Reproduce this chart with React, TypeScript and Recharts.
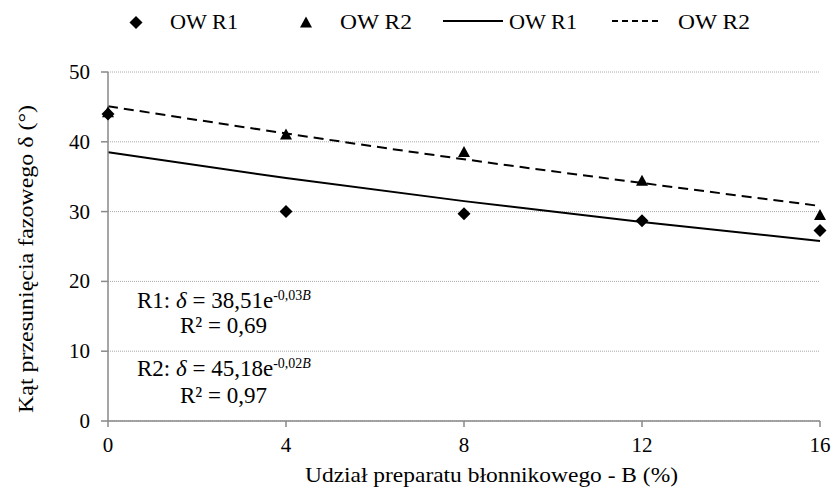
import { ComposedChart, Scatter, Line, XAxis, YAxis, CartesianGrid } from 'recharts'

// udział preparatu błonnikowego B (%)
const B = [0, 4, 8, 12, 16]
// pomiary
const R1 = [44.0, 30.0, 29.7, 28.7, 27.3]
const R2 = [44.3, 41.1, 38.6, 34.5, 29.6]
// linie trendu
const FIT1 = [38.5, 34.8, 31.5, 28.5, 25.8]
const FIT2 = [45.1, 41.2, 37.5, 34.1, 30.8]

const X_TICKS = [0, 4, 8, 12, 16]
const Y_TICKS = [0, 10, 20, 30, 40, 50]

const FONT = 'Liberation Serif'
const AXIS = '#898989'
const TXT = { fontFamily: FONT }

const data = B.map((b, i) => ({ b, r1: R1[i], r2: R2[i], fit1: FIT1[i], fit2: FIT2[i] }))

const Diamond = ({ cx, cy }: any) => (
  <path d={`M${cx},${cy - 6.5}L${cx + 6.5},${cy}L${cx},${cy + 6.5}L${cx - 6.5},${cy}Z`} fill="#000" />
)

const Triangle = ({ cx, cy }: any) => (
  <path d={`M${cx},${cy - 5.5}L${cx + 6},${cy + 5.5}L${cx - 6},${cy + 5.5}Z`} fill="#000" />
)

const XTick = ({ x, y, payload }: any) => (
  <text x={x} y={y + 21} textAnchor="middle" fontSize={21} fill="#000" style={TXT}>{payload.value}</text>
)

const YTick = ({ x, y, payload }: any) => (
  <text x={x} y={y + 7} textAnchor="end" fontSize={21} fill="#000" style={TXT}>{payload.value}</text>
)

const XTitle = () => (
  <text x={305} y={482} fontSize={22} fill="#000" style={TXT} textLength={373} lengthAdjust="spacingAndGlyphs">
    Udział preparatu błonnikowego - B (%)
  </text>
)

const YTitle = () => (
  <text x={33} y={413} transform="rotate(-90 33 413)" fontSize={22} fill="#000" style={TXT} textLength={308} lengthAdjust="spacingAndGlyphs">
    Kąt przesunięcia fazowego δ (°)
  </text>
)

export default function App() {
  return (
    <div style={{ position: 'absolute', left: 0, top: 0, width: 834, height: 490, background: '#fff' }}>
      <style>{`svg text, svg tspan { font-family: 'Liberation Serif', 'Times New Roman', serif !important; }`}</style>
      <ComposedChart width={834} height={490} data={data} margin={{ top: 72, right: 14, bottom: 0, left: 0 }}>
        <CartesianGrid vertical={false} stroke="#a8a8a8" strokeDasharray="1 1" />
        <XAxis
          dataKey="b"
          type="number"
          domain={[0, 16]}
          ticks={X_TICKS}
          height={69}
          stroke={AXIS}
          strokeWidth={1.5}
          tickSize={6}
          tickMargin={4}
          tick={<XTick />}
          label={<XTitle />}
        />
        <YAxis
          type="number"
          domain={[0, 50]}
          ticks={Y_TICKS}
          width={108}
          stroke={AXIS}
          strokeWidth={1.5}
          tickSize={7}
          tickMargin={11}
          tick={<YTick />}
          label={<YTitle />}
        />
        <Line dataKey="fit1" type="monotone" stroke="#000" strokeWidth={2} dot={false} isAnimationActive={false} />
        <Line dataKey="fit2" type="monotone" stroke="#000" strokeWidth={2} strokeDasharray="10 6" dot={false} isAnimationActive={false} />
        <Scatter dataKey="r1" shape={<Diamond />} isAnimationActive={false} />
        <Scatter dataKey="r2" shape={<Triangle />} isAnimationActive={false} />
      </ComposedChart>

      <svg width={834} height={490} style={{ position: 'absolute', left: 0, top: 0, pointerEvents: 'none' }}>
        {/* legenda */}
        <g fontSize={21} fill="#000">
          <Diamond cx={136} cy={22.5} />
          <text x={170} y={29} style={TXT} textLength={68} lengthAdjust="spacingAndGlyphs">OW R1</text>
          <Triangle cx={306} cy={22} />
          <text x={340} y={29} style={TXT} textLength={72} lengthAdjust="spacingAndGlyphs">OW R2</text>
          <line x1={443} y1={21} x2={503} y2={21} stroke="#000" strokeWidth={2} />
          <text x={509} y={29} style={TXT} textLength={68} lengthAdjust="spacingAndGlyphs">OW R1</text>
          <line x1={612} y1={21} x2={658} y2={21} stroke="#000" strokeWidth={2} strokeDasharray="6 4" />
          <text x={678} y={29} style={TXT} textLength={72} lengthAdjust="spacingAndGlyphs">OW R2</text>
        </g>
        {/* równania */}
        <g fontSize={23} fill="#000">
          <text x={137} y={308} style={TXT}>
            R1: <tspan fontStyle="italic">δ</tspan> = 38,51e
            <tspan fontSize={14} dy={-8}>-0,03</tspan>
            <tspan fontSize={14} fontStyle="italic">B</tspan>
          </text>
          <text x={180} y={333} style={TXT}>R² = 0,69</text>
          <text x={137} y={376} style={TXT}>
            R2: <tspan fontStyle="italic">δ</tspan> = 45,18e
            <tspan fontSize={14} dy={-8}>-0,02</tspan>
            <tspan fontSize={14} fontStyle="italic">B</tspan>
          </text>
          <text x={180} y={403} style={TXT}>R² = 0,97</text>
        </g>
      </svg>
    </div>
  )
}
